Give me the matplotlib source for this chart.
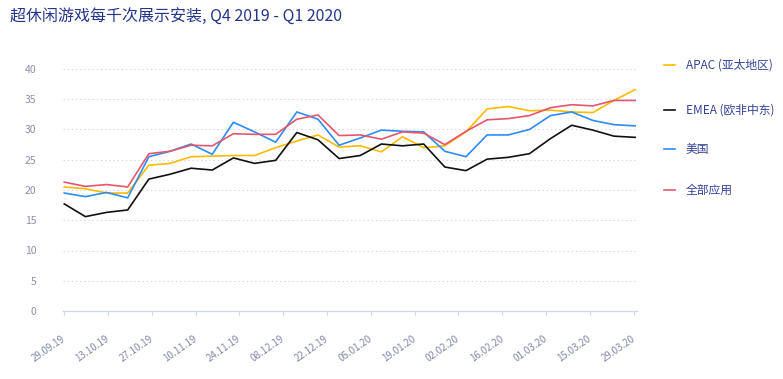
import matplotlib
matplotlib.use("Agg")
import matplotlib.pyplot as plt
from matplotlib.lines import Line2D
import numpy as np

plt.rcParams['font.family'] = ['Noto Sans CJK SC', 'DejaVu Sans']

title = "超休闲游戏每千次展示安装, Q4 2019 - Q1 2020"
tick_labels = ["29.09.19", "13.10.19", "27.10.19", "10.11.19", "24.11.19", "08.12.19",
               "22.12.19", "05.01.20", "19.01.20", "02.02.20", "16.02.20", "01.03.20",
               "15.03.20", "29.03.20"]
series_names = ["APAC (亚太地区)", "EMEA (欧非中东)", "美国", "全部应用"]
apac = [20.5, 20.2, 19.5, 19.5, 24.1, 24.4, 25.5, 25.6, 25.7, 25.7, 27.0, 28.1, 29.1, 27.1,
        27.3, 26.3, 28.8, 27.0, 27.3, 29.6, 33.4, 33.8, 33.1, 33.2, 32.9, 32.8, 34.8, 36.6]
emea = [17.7, 15.6, 16.3, 16.7, 21.8, 22.6, 23.6, 23.3, 25.3, 24.4, 24.9, 29.5, 28.3, 25.2,
        25.7, 27.6, 27.3, 27.6, 23.8, 23.2, 25.1, 25.4, 26.0, 28.5, 30.7, 29.9, 28.9, 28.7]
usa = [19.5, 18.9, 19.6, 18.7, 25.5, 26.4, 27.6, 25.9, 31.2, 29.6, 27.9, 32.9, 31.7, 27.4,
       28.6, 29.9, 29.7, 29.6, 26.4, 25.5, 29.1, 29.1, 30.0, 32.3, 32.9, 31.5, 30.8, 30.6]
all_apps = [21.3, 20.6, 20.9, 20.5, 26.0, 26.4, 27.4, 27.3, 29.3, 29.2, 29.2, 31.7, 32.4, 29.0,
            29.1, 28.4, 29.6, 29.4, 27.5, 29.7, 31.6, 31.8, 32.3, 33.6, 34.1, 33.9, 34.8, 34.8]
series = [apac, emea, usa, all_apps]
colors = ["#ffbb00", "#111111", "#2d8cf5", "#e5566e"]

W, H = 783, 379
fig = plt.figure(figsize=(W / 100, H / 100), dpi=100)
ax = fig.add_axes([63 / W, (H - 311) / H, 574 / W, 242 / H])

x = np.arange(len(apac))
for vals, c in zip(series, colors):
    ax.plot(x, vals, color=c, lw=1.2, solid_joinstyle='round', clip_on=False)

ax.set_xlim(-0.06, len(apac) - 1 + 0.09)
ax.set_ylim(0, 40)
yt = np.arange(0, 41, 5)
ax.set_yticks(yt)
ax.set_yticklabels([str(v) for v in yt])
for v in yt[1:]:
    ax.axhline(v, color="#d3d3d3", lw=0.75, linestyle=(0, (1.2, 2.8)), zorder=0)

step = (len(apac) - 1) * 0.9975 / (len(tick_labels) - 1)
ax.set_xticks(np.arange(len(tick_labels)) * step)
ax.set_xticklabels(tick_labels, rotation=35, ha='right', va='center', rotation_mode='anchor')

for s in ["top", "right", "left"]:
    ax.spines[s].set_visible(False)
ax.spines["bottom"].set_color("#ccd6eb")
ax.spines["bottom"].set_linewidth(0.9)
ax.tick_params(axis='x', colors="#ccd6eb", length=3, width=0.8, pad=16,
               labelcolor="#8088a6", labelsize=7)
ax.tick_params(axis='y', length=0, pad=19, labelcolor="#8a90a8", labelsize=7.5)

fig.text(10 / W, 1 - 17 / H, title, fontsize=11.5, color="#26358c", ha='left', va='center')

leg_y = [65, 110, 149, 190]
for name, c, yy in zip(series_names, colors, leg_y):
    yf = 1 - yy / H
    fig.add_artist(Line2D([664 / W, 675 / W], [yf, yf], color=c, lw=1.2,
                          transform=fig.transFigure))
    fig.text(686 / W, yf, name, fontsize=8.5, color="#34429a", ha='left', va='center')

fig.savefig("out.png", dpi=100)
